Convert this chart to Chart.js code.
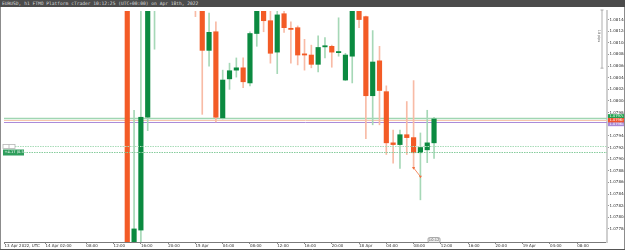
<!DOCTYPE html>
<html lang="en">
<head>
<meta charset="UTF-8">
<title>EURUSD H1</title>
<script src="https://cdn.jsdelivr.net/npm/chart.js"></script>
<style>
  body { margin: 0; background: #fff; }
  #title { width: 623px; height: 7px; background: #4b4b4b; color: #dcdcdc; font: 4.6px 'DejaVu Sans Mono', monospace; line-height: 7px; padding-left: 2px; white-space: nowrap; overflow: hidden; }
  #chartBox { width: 625px; height: 243px; }
</style>
</head>
<body>
<div id="title">EURUSD, h1 FTMO Platform cTrader 10:12:25 (UTC+00:00) on Apr 18th, 2022</div>
<div id="chartBox"><canvas id="chart" width="625" height="243"></canvas></div>

<script>
// hour index: 0 = 14 Apr 00:00 (weekend skipped)
const hours = [14, 15, 16, 17, 18, 19, 20, 21, 22, 23, 24, 25, 26, 27, 28, 29, 30, 31, 32, 33, 34, 35, 36,
  37, 38, 39, 40, 41, 42, 43, 44, 45, 46, 47, 48, 49, 50, 51, 52, 53, 54, 55, 56, 57, 58, 59];
const opens = [1.08640, 1.07612, 1.07778, 1.07972, 1.08210, 1.08290, 1.08250, 1.08270, 1.08240, 1.08210,
  1.08190, 1.08170, 1.08087, 1.08119, 1.07971, 1.08038, 1.08053, 1.08057, 1.08031, 1.08116, 1.08175,
  1.08138, 1.08084, 1.08150, 1.08125, 1.08126, 1.08081, 1.08079, 1.08063, 1.08093, 1.08094, 1.08083,
  1.08036, 1.08077, 1.08180, 1.08145, 1.08009, 1.08069, 1.08016, 1.07928, 1.07925, 1.07942, 1.07937,
  1.07911, 1.07916, 1.07928];
const highs = [1.08720, 1.07984, 1.08190, 1.08250, 1.08330, 1.08360, 1.08300, 1.08320, 1.08280, 1.08250,
  1.08220, 1.08200, 1.08151, 1.08136, 1.08053, 1.08065, 1.08074, 1.08074, 1.08119, 1.08190, 1.08200,
  1.08160, 1.08160, 1.08160, 1.08136, 1.08129, 1.08106, 1.08096, 1.08112, 1.08109, 1.08096, 1.08143,
  1.08082, 1.08200, 1.08210, 1.08146, 1.08121, 1.08094, 1.08026, 1.07950, 1.07950, 1.07999, 1.08035,
  1.07945, 1.07984, 1.07972];
const lows = [1.07580, 1.07575, 1.07730, 1.07949, 1.08089, 1.08220, 1.08190, 1.08230, 1.08180, 1.08170,
  1.08145, 1.07977, 1.08060, 1.07964, 1.07969, 1.08020, 1.08041, 1.08023, 1.08026, 1.08094, 1.08119,
  1.08065, 1.08047, 1.08118, 1.08065, 1.08062, 1.08053, 1.08057, 1.08050, 1.08074, 1.08058, 1.08077,
  1.08035, 1.08031, 1.08126, 1.07935, 1.07959, 1.07959, 1.07908, 1.07893, 1.07884, 1.07908, 1.07884,
  1.07830, 1.07894, 1.07901];
const closes = [1.07610, 1.07780, 1.07972, 1.08210, 1.08290, 1.08250, 1.08270, 1.08240, 1.08210, 1.08190,
  1.08170, 1.08087, 1.08118, 1.07972, 1.08036, 1.08052, 1.08057, 1.08033, 1.08116, 1.08170, 1.08138,
  1.08082, 1.08148, 1.08126, 1.08123, 1.08079, 1.08079, 1.08063, 1.08092, 1.08095, 1.08084, 1.08085,
  1.08079, 1.08175, 1.08140, 1.08009, 1.08067, 1.08018, 1.07928, 1.07925, 1.07942, 1.07937, 1.07911,
  1.07920, 1.07928, 1.07969];

const priceTicks = [1.0778, 1.0780, 1.0782, 1.0784, 1.0786, 1.0788, 1.0790, 1.0792, 1.0794, 1.0796,
  1.0798, 1.0800, 1.0802, 1.0804, 1.0806, 1.0808, 1.0810, 1.0812, 1.0814];
const timeTicks = [-4, 2, 8, 12, 16, 20, 24, 28, 32, 36, 40, 44, 48, 52, 56, 60, 64, 68, 72, 76, 80];
const timeLabels = ['13 Apr 2022, UTC', '14 Apr 02:00', '08:00', '12:00', '16:00', '20:00', '15 Apr',
  '04:00', '08:00', '12:00', '16:00', '20:00', '18 Apr', '04:00', '08:00', '12:00', '16:00', '20:00',
  '19 Apr', '04:00', '08:00'];

const bidLevel = 1.07971;
const lastLevel = 1.07967;
const askLevel = 1.07963;
const targetLevel = 1.07923;
const entryLevel = 1.07912;
const tradeHours = [56, 57];
const tradePrices = [1.07885, 1.07870];

const upBody = '#0b8a40', downBody = '#f35b26', upWick = '#a6d8b7', downWick = '#f8bba6';
const isUp = i => closes[i] >= opens[i];

const subDigits = '₀₁₂₃₄₅₆₇₈₉';
function fmtPrice(v) {
  const n = Math.round(v * 100000);
  return (Math.floor(n / 10) / 10000).toFixed(4) + subDigits[n % 10];
}

const overlay = {
  id: 'overlay',
  beforeDatasetsDraw(chart) {
    const { ctx, chartArea: a, scales: { y } } = chart;
    ctx.save();
    // price lines, behind the candles
    const lines = [[bidLevel, 'rgba(150,210,170,0.9)', 1.6], [lastLevel, '#f6c6ac', 1], [askLevel, '#ab8bd9', 1]];
    lines.forEach(([p, c, w]) => {
      const py = Math.round(y.getPixelForValue(p)) + 0.5;
      ctx.strokeStyle = c; ctx.lineWidth = w;
      ctx.beginPath(); ctx.moveTo(a.left, py); ctx.lineTo(a.right, py); ctx.stroke();
    });
    ctx.restore();
  },
  afterDatasetsDraw(chart) {
    const { ctx, chartArea: a, scales: { y } } = chart;
    ctx.save();
    // dotted order lines
    ctx.setLineDash([1.5, 1]);
    let ty = Math.round(y.getPixelForValue(targetLevel)) + 0.5;
    ctx.strokeStyle = '#a9dcb9'; ctx.lineWidth = 1;
    ctx.beginPath(); ctx.moveTo(15, ty); ctx.lineTo(a.right, ty); ctx.stroke();
    let ey = Math.round(y.getPixelForValue(entryLevel)) + 0.5;
    ctx.strokeStyle = '#86cc9d';
    ctx.beginPath(); ctx.moveTo(24, ey); ctx.lineTo(a.right, ey); ctx.stroke();
    ctx.setLineDash([]);
    // order label boxes
    ctx.fillStyle = '#fff'; ctx.strokeStyle = '#b5b5b5'; ctx.lineWidth = 0.8;
    ctx.fillRect(3, ty - 2, 12, 4); ctx.strokeRect(3, ty - 2, 12, 4);
    ctx.beginPath(); ctx.moveTo(9, ty - 2); ctx.lineTo(9, ty + 2); ctx.stroke();
    ctx.fillStyle = '#2f9e5c';
    ctx.fillRect(3, ey - 3, 21, 6);
    ctx.fillStyle = '#fff'; ctx.font = '3.6px DejaVu Sans'; ctx.textBaseline = 'middle';
    ctx.fillText('+4.17 (0.5)', 4.5, ey);
    // pip ruler
    ctx.strokeStyle = '#9a9a9a'; ctx.lineWidth = 0.8;
    const r0 = 3, r1 = r0 + (y.getPixelForValue(1.0800) - y.getPixelForValue(1.0810));
    ctx.beginPath();
    ctx.moveTo(602, r0); ctx.lineTo(602, r1);
    ctx.moveTo(600.5, r0); ctx.lineTo(603.5, r0);
    ctx.moveTo(600.5, r1); ctx.lineTo(603.5, r1);
    ctx.stroke();
    ctx.save();
    ctx.translate(599, 29); ctx.rotate(Math.PI / 2);
    ctx.fillStyle = '#555'; ctx.font = '3.4px DejaVu Sans'; ctx.textAlign = 'center';
    ctx.fillText('10 pips', 0, 0);
    ctx.restore();
    ctx.restore();
  },
  afterDraw(chart) {
    const { ctx, chartArea: a, scales: { y } } = chart;
    ctx.save();
    ctx.font = '3.6px DejaVu Sans'; ctx.textBaseline = 'middle';
    const tags = [[bidLevel, '#1fa24f', -1.5], [askLevel, '#a98ad8', 1.5], [lastLevel, '#ef5530', 0]];
    tags.forEach(([p, c, off]) => {
      const py = y.getPixelForValue(p) + off;
      ctx.fillStyle = c;
      ctx.fillRect(a.right + 1, py - 2.2, 16, 4.4);
      ctx.fillStyle = '#fff';
      ctx.fillText(fmtPrice(p), a.right + 2.5, py);
    });
    // current bar time marker
    const mx = chart.scales.x.getPixelForValue(59);
    ctx.fillStyle = '#f0f0f0'; ctx.strokeStyle = '#8a8a8a'; ctx.lineWidth = 0.7;
    ctx.beginPath(); ctx.roundRect(mx - 6, a.bottom - 4.5, 12, 5, 1.5); ctx.fill(); ctx.stroke();
    ctx.fillStyle = '#444'; ctx.textAlign = 'center';
    ctx.fillText('10:12', mx, a.bottom - 2);
    // frame
    ctx.strokeStyle = '#8c8c8c'; ctx.lineWidth = 1;
    ctx.beginPath();
    ctx.moveTo(0.5, 0); ctx.lineTo(0.5, 243);
    ctx.moveTo(624.5, 0); ctx.lineTo(624.5, 243);
    ctx.stroke();
    ctx.strokeStyle = '#555';
    ctx.beginPath(); ctx.moveTo(0, 242.5); ctx.lineTo(625, 242.5); ctx.stroke();
    ctx.restore();
  }
};

const wickData = hours.map((h, k) => ({ x: h, y: [lows[k], highs[k]] }));
const bodyData = hours.map((h, k) => ({ x: h, y: [opens[k], closes[k]] }));
const tradeData = tradeHours.map((h, k) => ({ x: h, y: tradePrices[k] }));

new Chart(document.getElementById('chart'), {
  type: 'bar',
  data: {
    datasets: [
      {
        type: 'line', data: tradeData, order: 0, clip: 0,
        borderColor: '#f2703f', borderWidth: 0.8, backgroundColor: '#f2703f',
        pointStyle: 'triangle', rotation: 180, pointRadius: 1.8, pointBorderWidth: 0
      },
      {
        data: bodyData, order: 1, grouped: false, clip: 0, barThickness: 4.5, minBarLength: 1,
        borderWidth: 0, backgroundColor: c => isUp(c.dataIndex) ? upBody : downBody
      },
      {
        data: wickData, order: 2, grouped: false, clip: 0, barThickness: 1,
        borderWidth: 0, backgroundColor: c => isUp(c.dataIndex) ? upWick : downWick
      }
    ]
  },
  options: {
    responsive: false,
    animation: false,
    devicePixelRatio: 1,
    layout: { padding: { left: 2, top: 0, right: 0, bottom: 0 } },
    plugins: { legend: { display: false }, tooltip: { enabled: false } },
    scales: {
      x: {
        type: 'linear', min: -4.08, max: 84.37, offset: false,
        afterBuildTicks: s => { s.ticks = timeTicks.map(v => ({ value: v })); },
        afterFit: s => { s.height = 8; },
        grid: { drawOnChartArea: false, tickLength: 2, color: '#8a8a8a', offset: false },
        border: { color: '#7a7a7a' },
        ticks: {
          autoSkip: false, maxRotation: 0, align: 'start', padding: 0, color: '#333',
          font: { size: 4, family: 'DejaVu Sans' },
          callback: v => timeLabels[timeTicks.indexOf(v)]
        }
      },
      y: {
        position: 'right', min: 1.077575, max: 1.081547,
        afterBuildTicks: s => { s.ticks = priceTicks.map(v => ({ value: v })); },
        afterFit: s => { s.width = 18; },
        grid: { drawOnChartArea: false, tickLength: 2, color: '#999' },
        border: { color: '#cfcfcf', width: 2 },
        ticks: {
          padding: 0.5, color: '#333', font: { size: 4, family: 'DejaVu Sans' },
          callback: v => fmtPrice(v)
        }
      }
    }
  },
  plugins: [overlay]
});
</script>
</body>
</html>
